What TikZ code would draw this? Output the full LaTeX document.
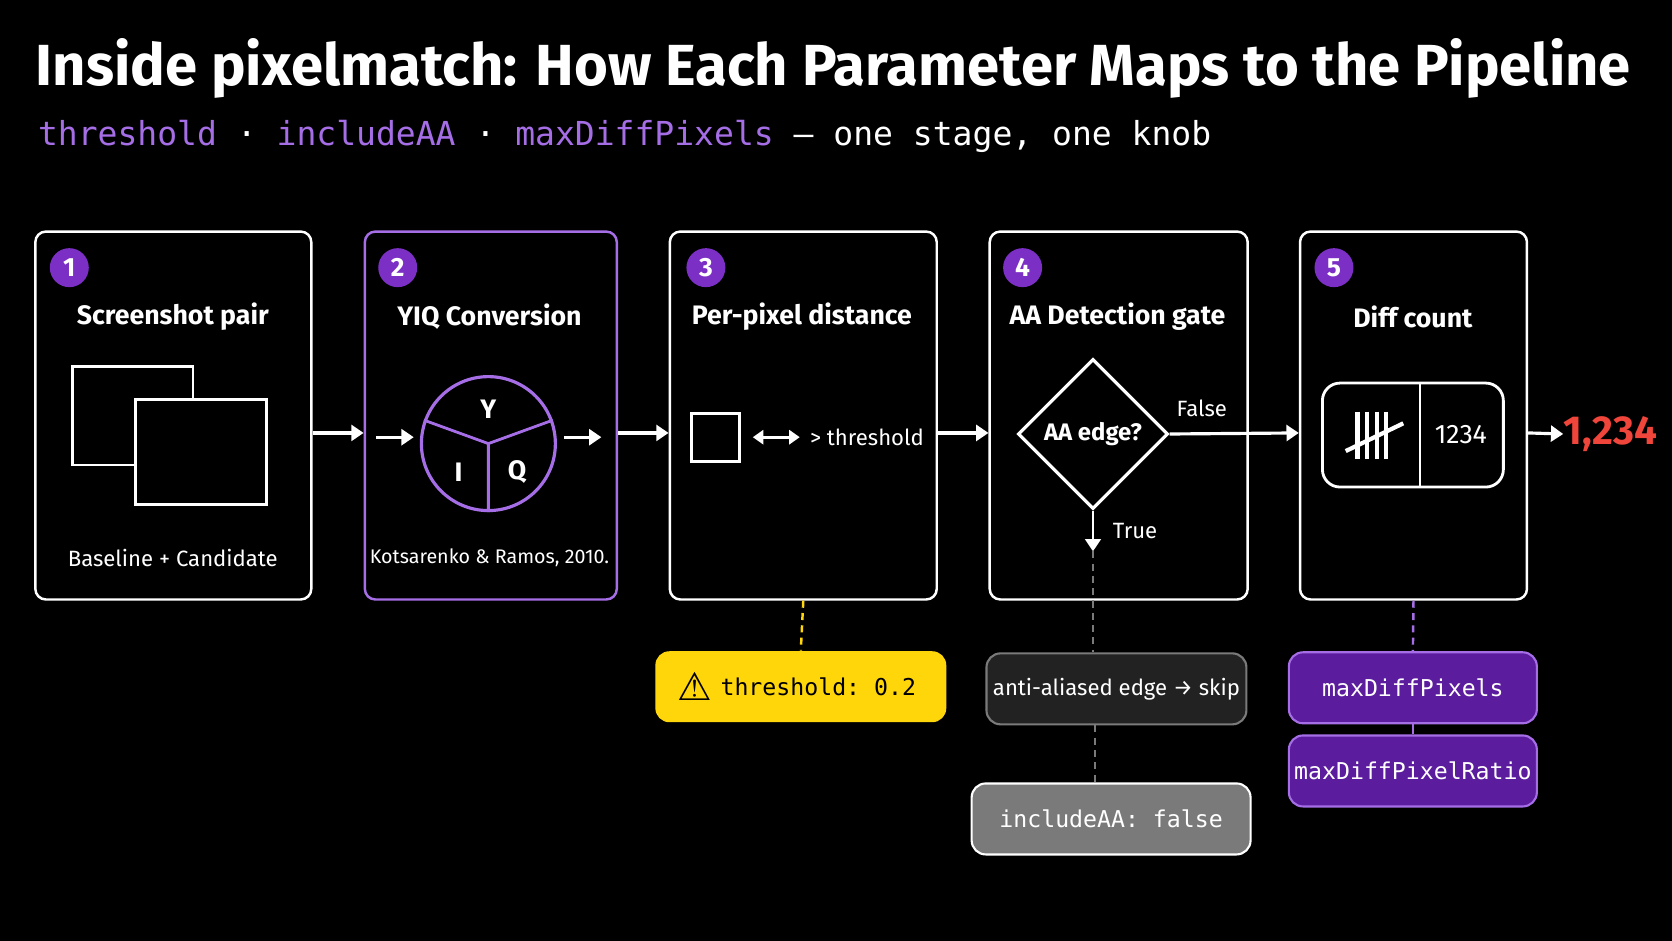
\documentclass[tikz,border=0pt]{standalone}
\usepackage{fontspec}
\setmainfont{Fira Sans}
\setmonofont{DejaVu Sans Mono}
\newfontfamily\symfont{DejaVu Sans}
\usetikzlibrary{positioning, shapes.geometric, arrows.meta}
\definecolor{bgblack}{HTML}{000000}
\definecolor{knobpurple}{HTML}{A66EE6}
\definecolor{badgepurple}{HTML}{7B2FC4}
\definecolor{cardpurple}{HTML}{5B1C9E}
\definecolor{knobyellow}{HTML}{FFD60A}
\definecolor{countred}{HTML}{F0453A}
\definecolor{skipgray}{HTML}{222222}
\definecolor{flaggray}{HTML}{7A7A7A}

\begin{document}
\begin{tikzpicture}[x=0.01066cm, y=-0.01066cm,
	stage/.style={draw=white, line width=0.7pt, rounded corners=3pt, anchor=north west, inner sep=0pt},
	badge/.style={circle, fill=badgepurple, text=white, minimum size=0.39cm, inner sep=0pt, font=\bfseries\fontsize{7.5}{8}\selectfont},
	heading/.style={text=white, font=\bfseries\fontsize{7.6}{9}\selectfont},
	caption/.style={text=white, font=\fontsize{6.3}{7}\selectfont},
	flow/.style={-{Triangle[length=3.5pt,width=4.5pt]}, white, line width=0.9pt},
	knob/.style={rounded corners=4pt, minimum height=0.71cm, font=\ttfamily\fontsize{6.6}{7}\selectfont, inner sep=0pt},
	link/.style={dashed, line width=0.7pt, dash pattern=on 2pt off 1.5pt}]
	\fill[bgblack] (0,0) rectangle (1568,882);
	\useasboundingbox (0,0) rectangle (1568,882);

	% title
	\node[anchor=west, text=white, font=\bfseries\fontsize{16.5}{18}\selectfont, inner sep=0pt] (title) at (33,64) {Inside pixelmatch: How Each Parameter Maps to the Pipeline};
	\node[anchor=west, font=\ttfamily\fontsize{9.4}{11}\selectfont, inner sep=0pt] (subtitle) at (35,128) {\textcolor{knobpurple}{threshold}\ \textcolor{white}{·}\ \textcolor{knobpurple}{includeAA}\ \textcolor{white}{·}\ \textcolor{knobpurple}{maxDiffPixels}\ \textcolor{white}{— one stage, one knob}};

	% stages
	\node[stage, minimum width=2.76cm, minimum height=3.68cm] (s1) at (32,216) {};
	\node[stage, draw=knobpurple, minimum width=2.52cm, minimum height=3.68cm] (s2) at (341,216) {};
	\node[stage, minimum width=2.67cm, minimum height=3.68cm] (s3) at (627,216) {};
	\node[stage, minimum width=2.58cm, minimum height=3.68cm] (s4) at (927,216) {};
	\node[stage, minimum width=2.27cm, minimum height=3.68cm] (s5) at (1218,216) {};

	\foreach \n/\x in {1/65, 2/373, 3/662, 4/959, 5/1251}
		\node[badge] (b\n) at (\x,251) {\n};

	\node[heading] (h1) at (162,297) {Screenshot pair};
	\node[heading] (h2) at (459,297) {YIQ Conversion};
	\node[heading] (h3) at (752,297) {Per-pixel distance};
	\node[heading] (h4) at (1048,297) {AA Detection gate};
	\node[heading] (h5) at (1325,297) {Diff count};

	% stage 1
	\draw[white, line width=0.8pt] (68,344) rectangle (181,436);
	\filldraw[fill=black, draw=white, line width=0.8pt] (127,375) rectangle (250,473);
	\node[caption] (c1) at (162,523) {Baseline + Candidate};

	% stage 2
	\node[circle, draw=knobpurple, line width=0.9pt, minimum size=1.34cm] (yiq) at (458,416) {};
	\draw[knobpurple, line width=0.8pt] (yiq.center) -- (yiq.160) (yiq.center) -- (yiq.20) (yiq.center) -- (yiq.south);
	\node[heading] (ylab) at (458,384) {Y};
	\node[heading] (ilab) at (430,443) {I};
	\node[heading] (qlab) at (485,443) {Q};
	\node[caption, font=\fontsize{5.6}{6}\selectfont] (c2) at (459,523) {Kotsarenko \& Ramos, 2010.};
	\coordinate (in2) at (353,410);
	\coordinate (out2) at (564,410);
	\draw[flow] (in2) -- (388,410);
	\draw[flow] (529,410) -- (out2);

	% stage 3
	\node[draw=white, line width=0.8pt, minimum size=0.48cm, inner sep=0pt] (px) at (671,410) {};
	\node[caption, anchor=west, inner sep=0pt] (thr) at (759,410) {> threshold};
	\draw[{Triangle[length=3pt,width=4pt]}-{Triangle[length=3pt,width=4pt]}, white, line width=0.8pt] (706,410) -- (750,410);

	% stage 4
	\node[diamond, draw=white, line width=0.9pt, aspect=1, minimum size=1.5cm, inner sep=0pt, text=white, font=\bfseries\fontsize{6.8}{8}\selectfont] (gate) at (1025,407) {AA edge?};
	\coordinate (truept) at (1025,517);
	\draw[flow, line width=0.7pt] (gate.south) -- node[right, text=white, pos=0.5, xshift=2pt, font=\fontsize{6.3}{7}\selectfont] {True} (truept);

	% stage 5
	\node[draw=white, line width=0.8pt, rounded corners=5pt, minimum width=1.81cm, minimum height=1.04cm] (counter) at (1325,408) {};
	\draw[white, line width=0.6pt] (1332,359) -- (1332,457);
	\foreach \t in {0,...,3}
		\draw[white, line width=1.2pt] (1273+\t*9,386) -- (1273+\t*9,430);
	\draw[white, line width=1.2pt] (1262,423) -- (1316,397);
	\node[text=white, font=\fontsize{7.6}{8}\selectfont] (num) at (1370,408) {1234};
	\node[anchor=west, text=countred, font=\bfseries\fontsize{11.5}{13}\selectfont, inner sep=0pt] (total) at (1466,407) {1,234};

	% flow between stages
	\draw[flow] (s1.east |- 0,406) -- (s2.west |- 0,406);
	\draw[flow] (s2.east |- 0,406) -- (s3.west |- 0,406);
	\draw[flow] (s3.east |- 0,406) -- (s4.west |- 0,406);
	\draw[flow] (gate.east) -- node[above, text=white, pos=0.25, yshift=1pt, font=\fontsize{6.3}{7}\selectfont] {False} (s5.west |- 0,406);
	\draw[flow] (s5.east |- 0,406) -- (total.west);

	% knobs
	\node[knob, fill=knobyellow, minimum width=2.91cm] (kthr) at (751,644) {\hspace*{0.35cm}\textcolor{black}{threshold: 0.2}};
	\node[font=\symfont\fontsize{11}{11}\selectfont, text=black] (warn) at (652,644) {⚠};
	\node[knob, fill=skipgray, draw=flaggray, line width=0.6pt, minimum width=2.6cm, font=\fontsize{6.3}{7}\selectfont, text=white!75] (skip) at (1047,646) {anti-aliased edge → skip};
	\node[knob, fill=flaggray, draw=white!70, line width=0.6pt, minimum width=2.79cm, text=white!92] (kaa) at (1042,768) {includeAA: false};
	\node[knob, fill=cardpurple, draw=knobpurple, line width=0.6pt, minimum width=2.48cm, text=white] (kmax) at (1325,645) {maxDiffPixels};
	\node[knob, fill=cardpurple, draw=knobpurple, line width=0.6pt, minimum width=2.48cm, text=white] (kratio) at (1325,723) {maxDiffPixelRatio};

	\draw[link, knobyellow] (s3.south) -- (kthr.north);
	\draw[link, flaggray] (truept) -- (truept |- skip.north);
	\draw[link, flaggray] (1027,0 |- skip.south) -- (1027,0 |- kaa.north);
	\draw[link, knobpurple] (s5.south) -- (kmax.north);
	\draw[knobpurple, line width=0.7pt] (kmax.south) -- (kratio.north);
\end{tikzpicture}
\end{document}
